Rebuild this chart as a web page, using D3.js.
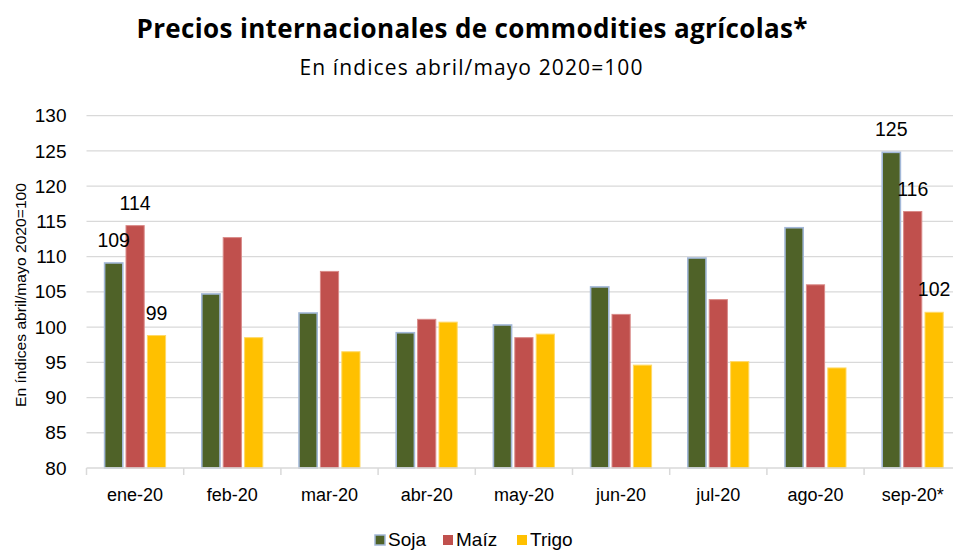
<!DOCTYPE html>
<html>
<head>
<meta charset="utf-8">
<script src="https://cdn.jsdelivr.net/npm/d3@7"></script>
<style>
  html, body { margin: 0; padding: 0; background: #fff; }
  svg { display: block; }
</style>
</head>
<body>
<svg id="chart" width="953" height="550"></svg>
<script>
// Monthly index values (abril/mayo 2020 = 100)
const months = ["ene-20", "feb-20", "mar-20", "abr-20", "may-20", "jun-20", "jul-20", "ago-20", "sep-20*"];
const soja  = [109.1, 104.7, 102.0, 99.2, 100.3, 105.7, 109.8, 114.1, 124.8];
const maiz  = [114.4, 112.7, 107.9, 101.1, 98.5, 101.8, 103.9, 106.0, 116.4];
const trigo = [98.8, 98.5, 96.5, 100.7, 99.0, 94.6, 95.1, 94.2, 102.1];
const seriesNames = ["Soja", "Maíz", "Trigo"];
const seriesColors = ["#4f6228", "#c0504d", "#ffc000"];
const seriesStrokes = ["#a3b8d8", "#d98a88", "#ffd966"];
const labeledMonths = ["ene-20", "sep-20*"];
const yTicks = [80, 85, 90, 95, 100, 105, 110, 115, 120, 125, 130];

const seriesValues = [soja, maiz, trigo];
const rows = months.map((m, i) => ({
  month: m,
  values: seriesNames.map((s, j) => ({ series: s, idx: j, value: seriesValues[j][i] }))
}));

const svg = d3.select("#chart");
const font = "'Liberation Sans', Arial, sans-serif";

svg.append("rect").attr("width", 953).attr("height", 550).attr("fill", "#fff");

const plot = { left: 86.5, right: 961.3, top: 115.7, bottom: 468 };

const x = d3.scaleBand().domain(months).range([plot.left, plot.right]).padding(0);
const groupW = 61;
const xs = d3.scaleBand().domain(seriesNames)
  .range([x.bandwidth() / 2 - groupW / 2, x.bandwidth() / 2 + groupW / 2])
  .paddingInner(0.15);
const y = d3.scaleLinear().domain([80, 130]).range([plot.bottom, plot.top]);

// Horizontal gridlines
svg.append("g").selectAll("line").data(yTicks.filter(t => t > 80)).join("line")
  .attr("x1", plot.left).attr("x2", plot.right)
  .attr("y1", d => y(d)).attr("y2", d => y(d))
  .attr("stroke", "#d9d9d9").attr("stroke-width", 1.3);

// Y axis labels
const yAxis = svg.append("g").attr("transform", `translate(${plot.left},0)`)
  .call(d3.axisLeft(y).tickValues(yTicks).tickSize(0).tickPadding(20));
yAxis.select(".domain").remove();
yAxis.selectAll("text").attr("font-family", font).attr("font-size", 19).attr("fill", "#000");

// Bars
const groups = svg.append("g").selectAll("g").data(rows).join("g")
  .attr("transform", d => `translate(${x(d.month)},0)`);

groups.selectAll("rect").data(d => d.values).join("rect")
  .attr("x", d => xs(d.series))
  .attr("width", xs.bandwidth())
  .attr("y", d => y(d.value))
  .attr("height", d => y(80) - y(d.value))
  .attr("fill", d => seriesColors[d.idx])
  .attr("stroke", d => seriesStrokes[d.idx])
  .attr("stroke-width", d => d.idx === 0 ? 1.6 : 1);

// Value labels on first and last month
groups.filter(d => labeledMonths.includes(d.month))
  .selectAll("text.val").data(d => d.values).join("text")
  .attr("class", "val")
  .attr("x", d => xs(d.series) + xs.bandwidth() / 2)
  .attr("y", d => y(d.value) - 16)
  .attr("text-anchor", "middle")
  .attr("font-family", font).attr("font-size", 19.5).attr("fill", "#000")
  .text(d => d3.format(".0f")(d.value));

// X axis line, category boundary ticks and labels
svg.append("line")
  .attr("x1", plot.left).attr("x2", plot.right)
  .attr("y1", plot.bottom).attr("y2", plot.bottom)
  .attr("stroke", "#d9d9d9").attr("stroke-width", 1.5);
svg.append("g").selectAll("line").data(months.concat(["end"])).join("line")
  .attr("x1", d => d === "end" ? plot.right : x(d))
  .attr("x2", d => d === "end" ? plot.right : x(d))
  .attr("y1", plot.bottom).attr("y2", plot.bottom + 7)
  .attr("stroke", "#d9d9d9").attr("stroke-width", 1.5);

const xAxis = svg.append("g").attr("transform", `translate(0,${plot.bottom})`)
  .call(d3.axisBottom(x).tickSize(0).tickPadding(20));
xAxis.select(".domain").remove();
xAxis.selectAll("text").attr("font-family", font).attr("font-size", 18).attr("fill", "#000");

// Titles
svg.append("text").attr("x", 472).attr("y", 37.5).attr("text-anchor", "middle")
  .attr("font-family", "'Open Sans', sans-serif").attr("font-weight", "bold")
  .attr("font-size", 26).attr("fill", "#000")
  .attr("textLength", 671).attr("lengthAdjust", "spacing")
  .text("Precios internacionales de commodities agrícolas*");
svg.append("text").attr("x", 471).attr("y", 75).attr("text-anchor", "middle")
  .attr("font-family", "'Open Sans', sans-serif")
  .attr("font-size", 21).attr("fill", "#000")
  .attr("textLength", 343).attr("lengthAdjust", "spacing")
  .text("En índices abril/mayo 2020=100");

// Y axis title
svg.append("text")
  .attr("transform", "translate(26,295) rotate(-90)")
  .attr("text-anchor", "middle")
  .attr("font-family", font).attr("font-size", 15.5).attr("fill", "#000")
  .attr("textLength", 224).attr("lengthAdjust", "spacingAndGlyphs")
  .text("En índices abril/mayo 2020=100");

// Legend
const legendX = [375, 443, 517];
const legend = svg.append("g").selectAll("g").data(seriesNames).join("g")
  .attr("transform", (d, i) => `translate(${legendX[i]},535)`);
legend.append("rect").attr("width", 10).attr("height", 10)
  .attr("fill", (d, i) => seriesColors[i])
  .attr("stroke", (d, i) => i === 0 ? seriesStrokes[0] : "none").attr("stroke-width", 1.5);
legend.append("text").attr("x", 13).attr("y", 11)
  .attr("font-family", font).attr("font-size", 19).attr("fill", "#000")
  .text(d => d);
</script>
</body>
</html>
